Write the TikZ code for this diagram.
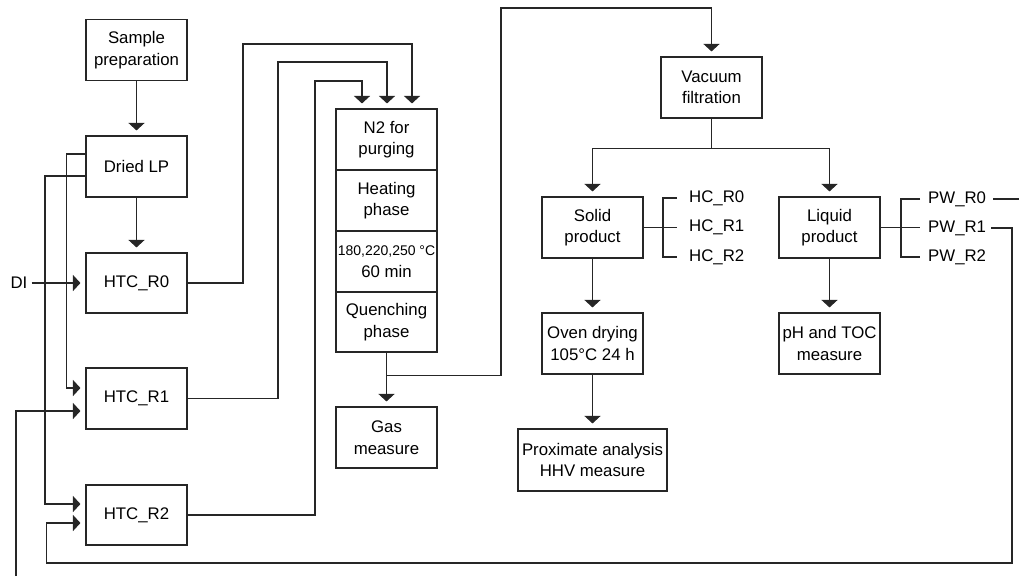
\documentclass[tikz,border=0pt]{standalone}
\usepackage{fontspec}
\setmainfont{Liberation Sans}
\usetikzlibrary{arrows.meta}
\begin{document}
\begin{tikzpicture}[x=1pt,y=-1pt,
  line/.style={draw=black!85, line width=1.1pt},
  box/.style={draw=black!85, line width=1.1pt, rectangle, align=center, inner sep=0pt,
    font=\fontsize{16.8}{21.5}\selectfont, minimum width=101pt, minimum height=61pt},
  lab/.style={inner sep=0pt, anchor=west, font=\fontsize{16.8}{21.5}\selectfont},
  arr/.style={line, -{Triangle[width=16pt,length=7.5pt]}, shorten >=5pt}]
\useasboundingbox (0,0) rectangle (1019,576);
% boxes
\node[box] (samp) at (136.5,50) {Sample\\preparation};
\node[box] (dried) at (136.5,166.5) {Dried LP};
\node[box, minimum height=60pt] (r0) at (136.5,283) {HTC\_R0};
\node[box] (r1) at (136.5,398.5) {HTC\_R1};
\node[box, minimum height=60pt] (r2) at (136.5,515) {HTC\_R2};
\node[box] (n2) at (386.5,139.5) {N2 for\\purging};
\node[box] (heat) at (386.5,200.5) {Heating\\phase};
\node[box] (temp) at (386.5,261.5) {{\fontsize{14}{18}\selectfont 180,220,250 °C}\\60 min};
\node[box, minimum height=60pt] (quench) at (386.5,322) {Quenching\\phase};
\node[box] (gas) at (386.5,437.5) {Gas\\measure};
\node[box] (vac) at (711.5,87.5) {Vacuum\\filtration};
\node[box] (solid) at (592.5,227.5) {Solid\\product};
\node[box] (liquid) at (829.5,227.5) {Liquid\\product};
\node[box] (oven) at (592.5,343.5) {Oven drying\\105°C 24 h};
\node[box, minimum width=149pt, minimum height=62pt] (prox) at (592.5,460) {Proximate analysis\\HHV measure};
\node[box] (ph) at (829.5,343.5) {pH and TOC\\measure};
% labels
\node[inner sep=0pt, font=\fontsize{16.8}{21.5}\selectfont] (di) at (19,283) {DI};
\node[lab] (hc0) at (689,198) {HC\_R0};
\node[lab] (hc1) at (689,227.5) {HC\_R1};
\node[lab] (hc2) at (689,257) {HC\_R2};
\node[lab] (pw0) at (928,199) {PW\_R0};
\node[lab] (pw1) at (928,228) {PW\_R1};
\node[lab] (pw2) at (928,257) {PW\_R2};
% coordinates
\coordinate (bl) at (16,576);
\coordinate (k0) at (243,44);
\coordinate (k1) at (278,62);
\coordinate (k2) at (315,81);
\coordinate (k3) at (501,8);
\coordinate (jh) at (663,227.5);
\coordinate (jp) at (901,227.5);
\coordinate (rt) at (1019,199);
\coordinate (c1) at (1012,563);
\coordinate (c2) at (46.5,563);
% connectors
\draw[arr] (samp) -- (dried);
\draw[arr] (dried) -- (r0);
\draw[arr, shorten <=4pt] (di) -- (r0);
\draw[arr] ([yshift=12.5pt]dried.west) -- ++(-19,0) |- ([yshift=10.5pt]r1.west);
\draw[arr] ([yshift=-9.5pt]dried.west) -- ++(-40.5,0) |- ([yshift=11pt]r2.west);
\draw[arr] (bl) |- ([yshift=-12.5pt]r1.west);
\draw[arr] (r0.east) -| (k0) -| ([xshift=25.5pt]n2.north);
\draw[arr] (r1.east) -| (k1) -| ([xshift=0.5pt]n2.north);
\draw[arr] (r2.east) -| (k2) -| ([xshift=-24.5pt]n2.north);
\draw[arr] (quench) -- (gas);
\draw[arr] (quench.south) ++(0,23) -| (k3) -| (vac.north);
\draw[arr] (vac.south) -- ++(0,30) -| (solid.north);
\draw[arr] (vac.south) -- ++(0,30) -| (liquid.north);
\draw[arr] (solid) -- (oven);
\draw[arr] (oven) -- (prox);
\draw[arr] (liquid) -- (ph);
\draw[line] (solid.east) -- (jh);
\draw[line, shorten >=12pt] (jh) -- (jh -| hc1.west);
\draw[line, shorten <=12pt, shorten >=12pt] (hc0.west) -| (jh) |- (hc2.west);
\draw[line] (liquid.east) -- (jp);
\draw[line, shorten >=8pt] (jp) -- (jp -| pw1.west);
\draw[line, shorten <=8pt, shorten >=8pt] (pw0.west) -| (jp) |- (pw2.west);
\draw[line, shorten <=7pt] (pw0.east) -- (rt);
\draw[arr, shorten <=5pt] (pw1.east) -| (c1) -- (c2) |- ([yshift=-8pt]r2.west);
\end{tikzpicture}
\end{document}
